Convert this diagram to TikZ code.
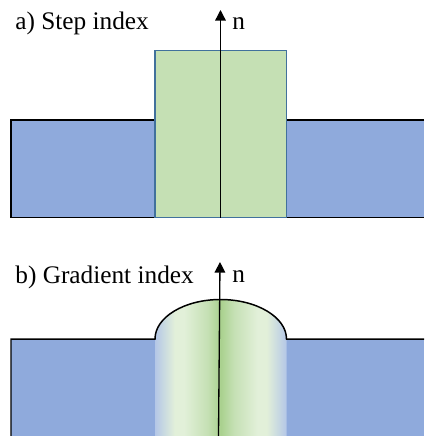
\documentclass[tikz,border=0pt]{standalone}
\usepackage{fontspec}
\setmainfont{Liberation Serif}
\usetikzlibrary{arrows.meta}
\definecolor{cladblue}{HTML}{8FAADC}
\definecolor{coregreen}{HTML}{C5E0B4}
\definecolor{coreedge}{HTML}{41719C}
\definecolor{gradedge}{HTML}{B4C7E7}
\definecolor{gradlight}{HTML}{E2F0D9}
\definecolor{gradmid}{HTML}{C5E0B4}
\definecolor{gradcentre}{HTML}{A9D18E}
\pgfdeclarehorizontalshading{coregrad}{100bp}{color(0bp)=(gradedge); color(25bp)=(gradedge); color(32.5bp)=(gradlight); color(36bp)=(gradlight); color(45bp)=(gradmid); color(50bp)=(gradcentre); color(55bp)=(gradmid); color(64bp)=(gradlight); color(67.5bp)=(gradlight); color(75bp)=(gradedge); color(100bp)=(gradedge)}
\tikzset{
    caption/.style={anchor=base west, inner sep=0pt, font=\fontsize{14.4}{16}\selectfont},
    outline/.style={draw=black, line width=0.85pt},
    axisline/.style={draw=black, line width=0.75pt, -{Triangle[length=6pt,width=6pt]}},
}
\begin{document}
\begin{tikzpicture}[x=0.02cm, y=-0.02cm]
    \useasboundingbox (0,0) rectangle (424,436);
    % a) step index
    \fill[cladblue] (11,120) rectangle (424,217.5);
    \draw[outline] (424,120) -- (11,120) -- (11,217.5) -- (424,217.5);
    \draw[fill=coregreen, draw=coreedge, line width=0.85pt] (155,50.5) rectangle (286.5,217.5);
    \coordinate (stepfoot) at (220.5,217.5);
    \coordinate (steptip) at (220.5,10);
    \draw[axisline] (stepfoot) -- (steptip);
    \node[caption] (steplabel) at (15,30) {a) Step index};
    \node[caption] (stepn) at (232,30) {n};
    % b) gradient index
    \fill[cladblue] (11,339) rectangle (424,436);
    \shade[shading=coregrad] (155,436) -- (155,339) .. controls (155,317.2) and (184.3,299.5) .. (220.5,299.5)
        .. controls (256.7,299.5) and (286.5,317.2) .. (286.5,339) -- (286.5,436) -- cycle;
    \draw[outline] (11,436) -- (11,339) -- (155,339) .. controls (155,317.2) and (184.3,299.5) .. (220.5,299.5)
        .. controls (256.7,299.5) and (286.5,317.2) .. (286.5,339) -- (424,339);
    \coordinate (gradfoot) at (218.5,436);
    \coordinate (gradtip) at (220,262);
    \draw[axisline] (gradfoot) -- (gradtip);
    \node[caption] (gradlabel) at (15,283) {b) Gradient index};
    \node[caption] (gradn) at (232,282) {n};
\end{tikzpicture}
\end{document}
